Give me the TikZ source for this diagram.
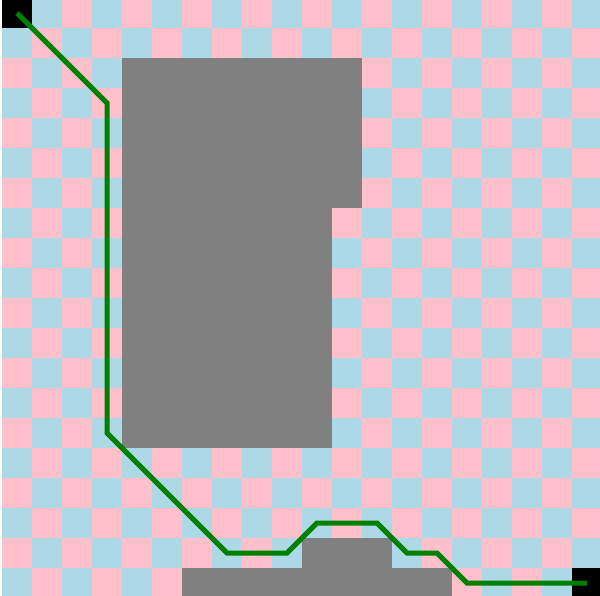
\documentclass[tikz,border=0pt]{standalone}
\usetikzlibrary{calc}

\definecolor{cellpink}{RGB}{255,192,203}
\definecolor{cellblue}{RGB}{173,216,230}
\definecolor{wallgray}{RGB}{128,128,128}
\definecolor{routegreen}{RGB}{0,128,0}

\begin{document}
\begin{tikzpicture}[
    x=1pt, y=-1pt,
    wall/.style={fill=wallgray},
    endcell/.style={fill=black},
    route/.style={draw=routegreen, line width=5pt}
  ]

  \useasboundingbox[fill=white] (0,0) rectangle (600,595);
  \clip (0,0) rectangle (600,595);

  \begin{scope}[xshift=2pt, yshift=2pt, x=30pt, y=-30pt]
    % Checkerboard
    \foreach \i in {0,...,19} {
      \foreach \j in {0,...,19} {
        \pgfmathtruncatemacro\parity{mod(\i+\j,2)}
        \ifnum\parity=0
          \fill[cellpink] (\i,\j) rectangle ++(1,1);
        \else
          \fill[cellblue] (\i,\j) rectangle ++(1,1);
        \fi
      }
    }

    % Start and goal
    \fill[endcell] (0,0)   rectangle ++(1,1);
    \fill[endcell] (19,19) rectangle ++(1,1);

    % Obstacles
    \fill[wall] (4,2)  rectangle (12,7);
    \fill[wall] (4,7)  rectangle (11,15);
    \fill[wall] (10,18) rectangle (13,19);
    \fill[wall] (6,19) rectangle (15,20);

    % Found path
    \coordinate (start) at (0.5,0.5);
    \coordinate (goal)  at (19.5,19.5);
    \draw[route] (start) -- (3.5,3.5) -- (3.5,14.5) -- (7.5,18.5)
      -- (9.5,18.5) -- (10.5,17.5) -- (12.5,17.5) -- (13.5,18.5)
      -- (14.5,18.5) -- (15.5,19.5) -- (goal);
  \end{scope}

\end{tikzpicture}
\end{document}
